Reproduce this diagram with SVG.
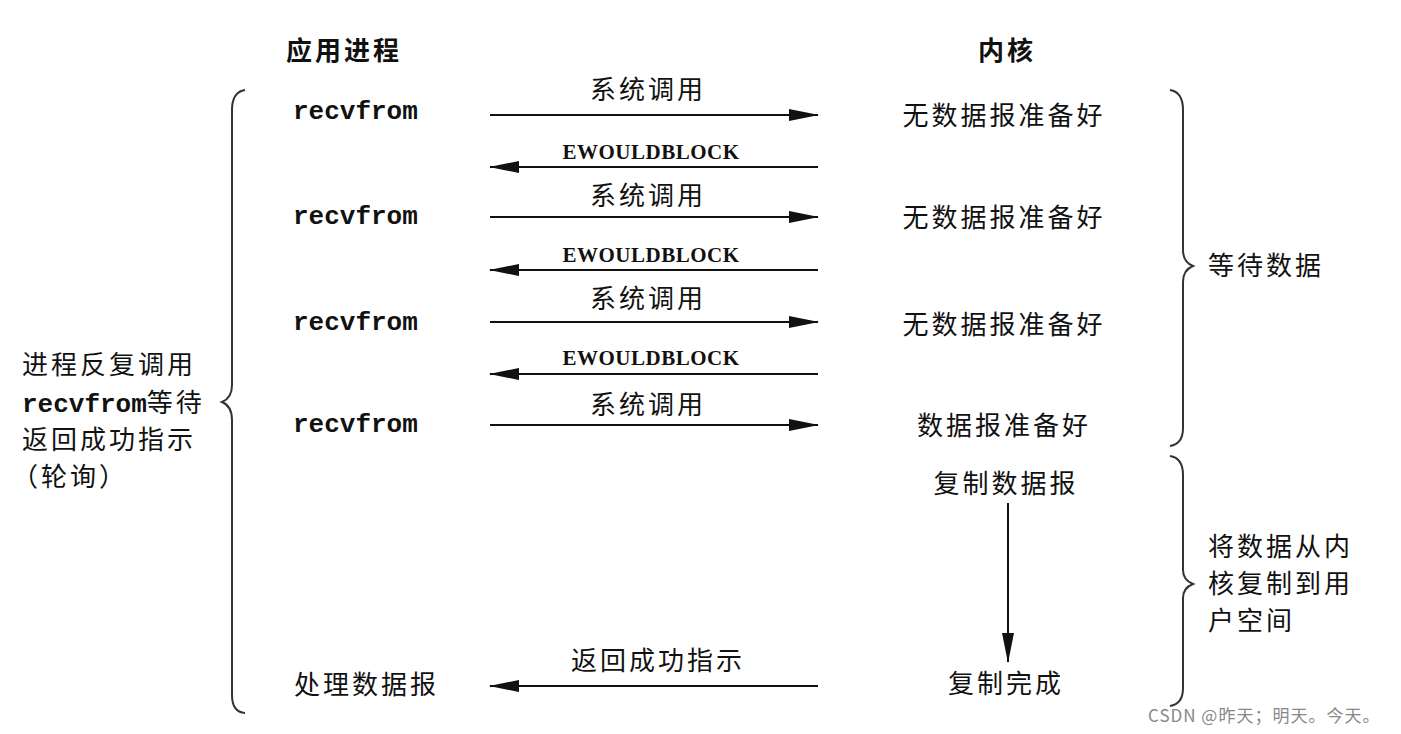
<svg xmlns="http://www.w3.org/2000/svg" width="1401" height="734" viewBox="0 0 1401 734">
<style>
.h{font-family:"Noto Sans CJK SC",sans-serif;font-size:26px;font-weight:bold;fill:#111;letter-spacing:3px}
.m{font-family:"Liberation Mono",monospace;font-size:26px;fill:#111;font-weight:bold}
.e{font-family:"Liberation Serif",serif;font-size:21px;fill:#111;font-weight:bold;letter-spacing:0.5px}
.c{font-family:"Noto Sans CJK SC",sans-serif;font-size:26px;fill:#111;letter-spacing:3px}
.l{stroke:#111;stroke-width:2;fill:none}
.b{stroke:#333;stroke-width:2;fill:none}
</style>
<defs><marker id="a" markerWidth="30" markerHeight="12" refX="29" refY="6" orient="auto" markerUnits="userSpaceOnUse"><path d="M0,0 L30,6 L0,12 Z" fill="#111"/></marker></defs>
<rect width="1401" height="734" fill="#fff"/>
<g id="headers"><text class="h" x="286" y="60">应用进程</text><text class="h" x="978" y="60">内核</text></g>
<g id="left">
<text class="m" x="293" y="119">recvfrom</text><text class="m" x="293" y="224">recvfrom</text><text class="m" x="293" y="330">recvfrom</text><text class="m" x="293" y="432">recvfrom</text>
<text class="c" x="294" y="694">处理数据报</text>
</g>
<g id="kernel" text-anchor="middle">
<text class="c" x="1004" y="125">无数据报准备好</text><text class="c" x="1004" y="227">无数据报准备好</text><text class="c" x="1004" y="334">无数据报准备好</text><text class="c" x="1004" y="435">数据报准备好</text>
<text class="c" x="1006" y="493">复制数据报</text><text class="c" x="1006" y="693">复制完成</text>
</g>
<g id="connectors">
<line class="l" x1="490" y1="115" x2="818" y2="115" marker-end="url(#a)"/>
<line class="l" x1="818" y1="167" x2="490" y2="167" marker-end="url(#a)"/>
<line class="l" x1="490" y1="217" x2="818" y2="217" marker-end="url(#a)"/>
<line class="l" x1="818" y1="270" x2="490" y2="270" marker-end="url(#a)"/>
<line class="l" x1="490" y1="322" x2="818" y2="322" marker-end="url(#a)"/>
<line class="l" x1="818" y1="374" x2="490" y2="374" marker-end="url(#a)"/>
<line class="l" x1="490" y1="425" x2="818" y2="425" marker-end="url(#a)"/>
<line class="l" x1="1008" y1="503" x2="1008" y2="662" marker-end="url(#a)"/>
<line class="l" x1="818" y1="686" x2="490" y2="686" marker-end="url(#a)"/>
<g text-anchor="middle">
<text class="c" x="648" y="99">系统调用</text><text class="e" x="651" y="159">EWOULDBLOCK</text>
<text class="c" x="648" y="205">系统调用</text><text class="e" x="651" y="262">EWOULDBLOCK</text>
<text class="c" x="648" y="308">系统调用</text><text class="e" x="651" y="365">EWOULDBLOCK</text>
<text class="c" x="648" y="414">系统调用</text><text class="c" x="658" y="670">返回成功指示</text>
</g>
</g>
<g id="braces">
<path class="b" d="M245,90 Q232,92 232,110 L232,385 Q232,398 222,402 Q232,406 232,420 L232,695 Q232,712 245,713"/>
<path class="b" d="M1170,90 Q1183,92 1183,110 L1183,250 Q1183,262 1193,266 Q1183,270 1183,282 L1183,428 Q1183,444 1170,446"/>
<path class="b" d="M1170,456 Q1183,458 1183,475 L1183,570 Q1183,580 1193,584 Q1183,588 1183,598 L1183,688 Q1183,704 1170,706"/>
</g>
<g id="labels">
<text class="c" x="22" y="374">进程反复调用</text>
<text x="22" y="412"><tspan class="m" font-size="24">recvfrom</tspan><tspan class="c">等待</tspan></text>
<text class="c" x="22" y="449">返回成功指示</text>
<text class="c" x="12" y="486">（轮询）</text>
<text class="c" x="1208" y="275">等待数据</text>
<text class="c" x="1208" y="556">将数据从内</text><text class="c" x="1208" y="593">核复制到用</text><text class="c" x="1208" y="630">户空间</text>
</g>
<text x="1148" y="722" style="font-family:'Noto Sans CJK SC',sans-serif;font-size:17px;fill:#888;letter-spacing:1px">CSDN @昨天；明天。今天。</text>
</svg>
